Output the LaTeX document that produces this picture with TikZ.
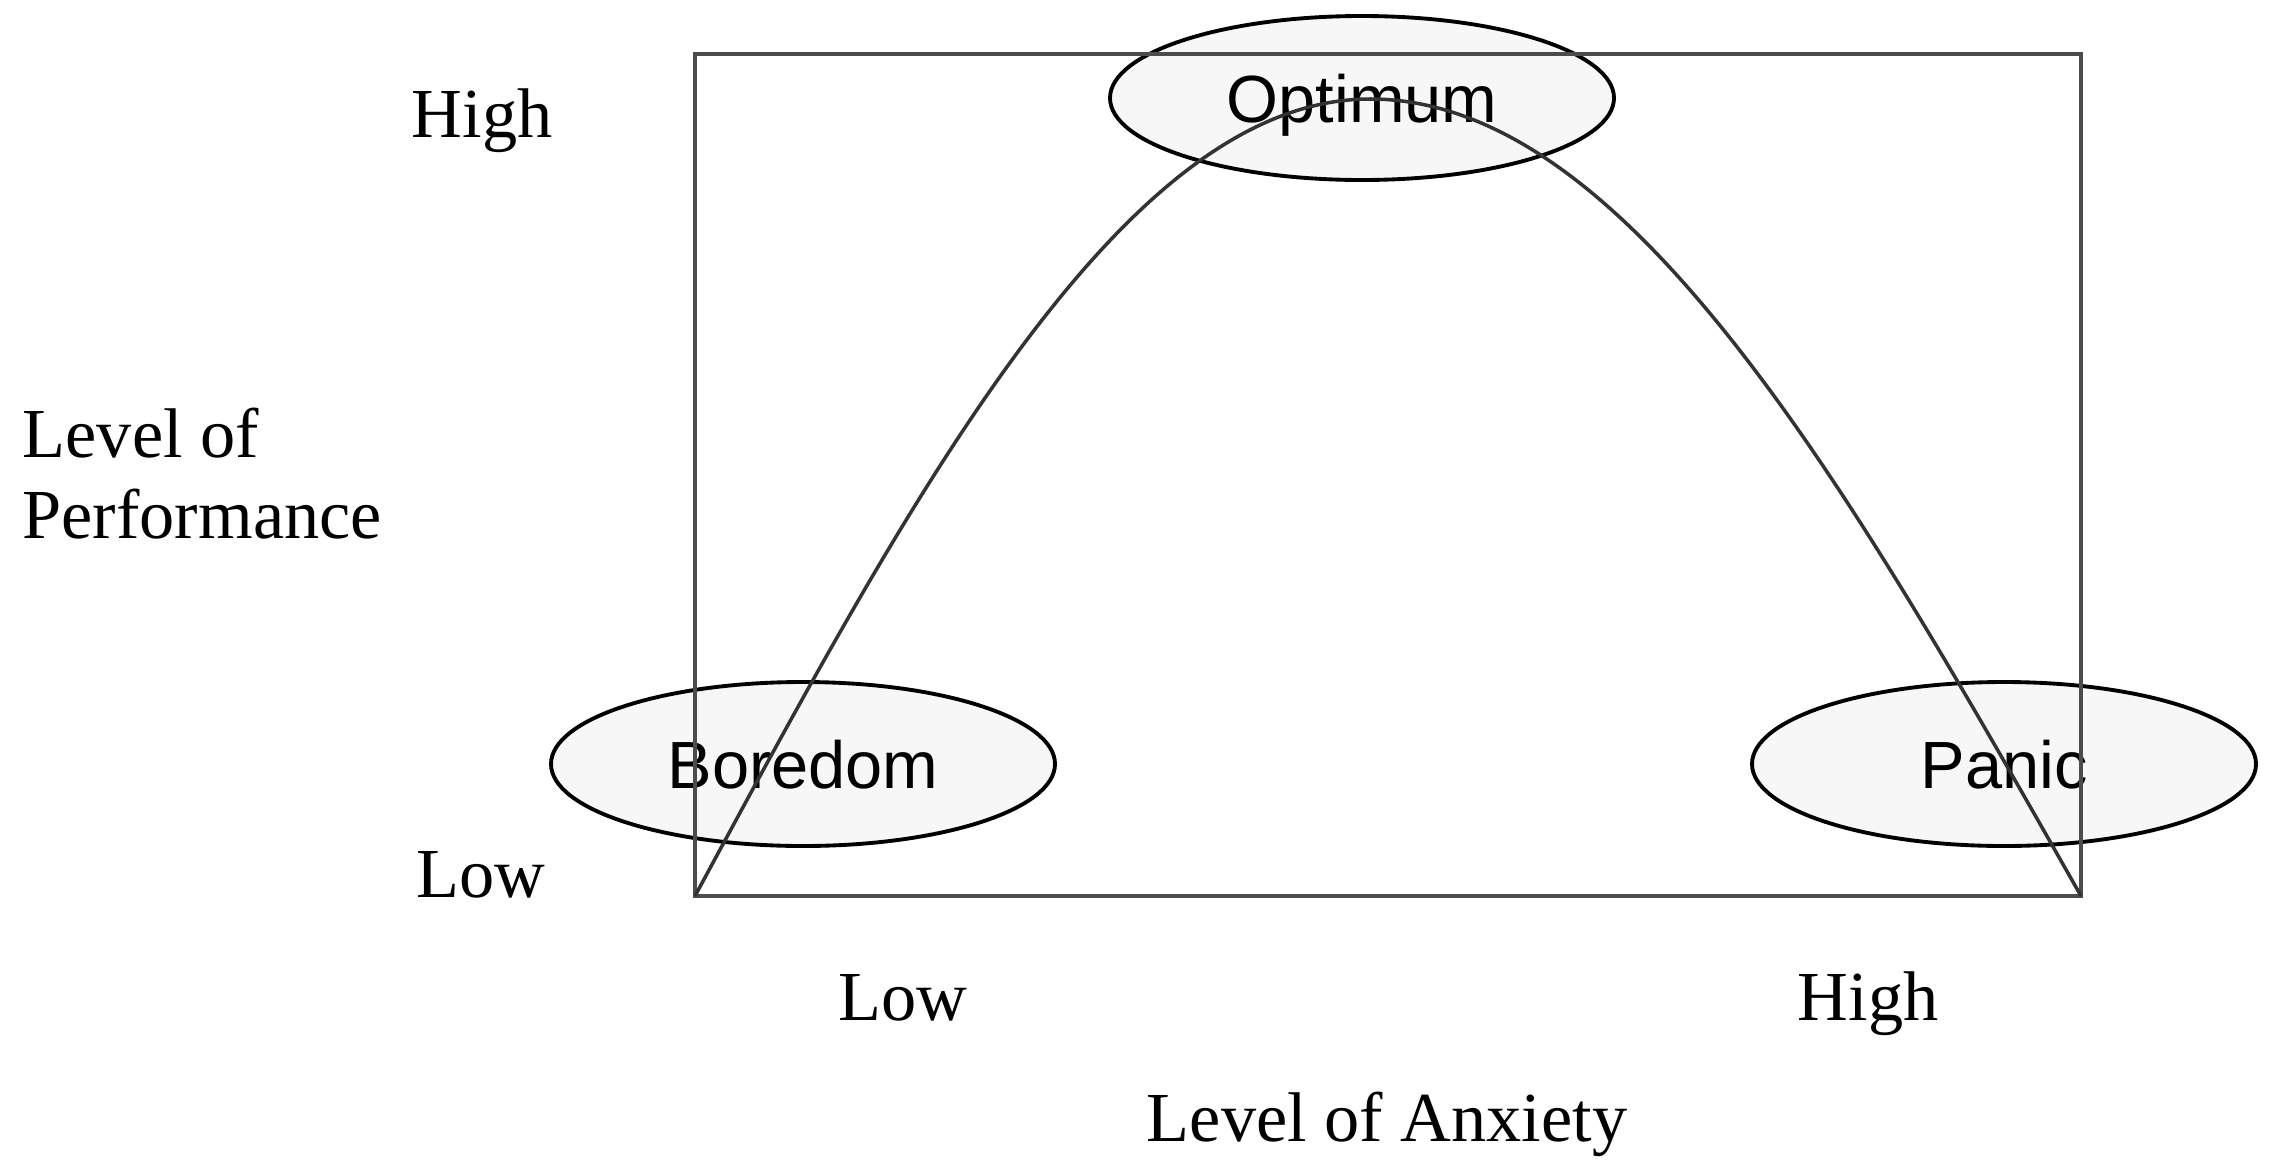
\documentclass[tikz,border=0pt]{standalone}
\usepackage{fontspec}
\setmainfont{Liberation Serif}
\newfontfamily\arialfont{Liberation Sans}
\usetikzlibrary{shapes.geometric,positioning}

\begin{document}
\begin{tikzpicture}[
    node distance=0.35cm and 0.4cm,
    lbl/.style={font=\fontsize{20}{23}\selectfont, inner sep=0pt, align=left},
    zone/.style={ellipse, draw, line width=1.1pt, fill=gray!6,
      minimum width=5.04cm, minimum height=1.64cm, inner sep=0pt, text depth=0pt,
      font=\arialfont\fontsize{19}{22}\selectfont},
    frame/.style={draw=black!70, line width=0.9pt},
    curve/.style={draw=black!80, line width=1pt}
  ]
    \useasboundingbox (0,0) rectangle (22.69,11.62);
    \coordinate (ll) at (6.95,2.66);
    \coordinate (ur) at (20.81,11.08);
    \coordinate (lr) at (20.81,2.66);
    \coordinate (peak) at (13.70,10.63);
    \node[zone] (optimum) at (13.62,10.64) {Optimum};
    \node[zone] (boredom) at (8.03,3.98) {Boredom};
    \node[zone] (panic) at (20.04,3.98) {Panic};
    \draw[frame] (ll) rectangle (ur);
    \draw[curve] (ll) sin (peak) cos (lr);
    \node[lbl, anchor=base east] (yhigh) at (5.53,10.25) {High};
    \node[lbl, anchor=base east] (ylow) at (5.46,2.65) {Low};
    \node[lbl, anchor=west] (ytitle) at (0.22,6.88) {Level of\\Performance};
    \node[lbl, anchor=base] (xlow) at (9.03,1.42) {Low};
    \node[lbl, anchor=base] (xhigh) at (18.68,1.42) {High};
    \node[lbl] (xtitle) at (13.87,0.38) {Level of Anxiety};
  \end{tikzpicture}
\end{document}
